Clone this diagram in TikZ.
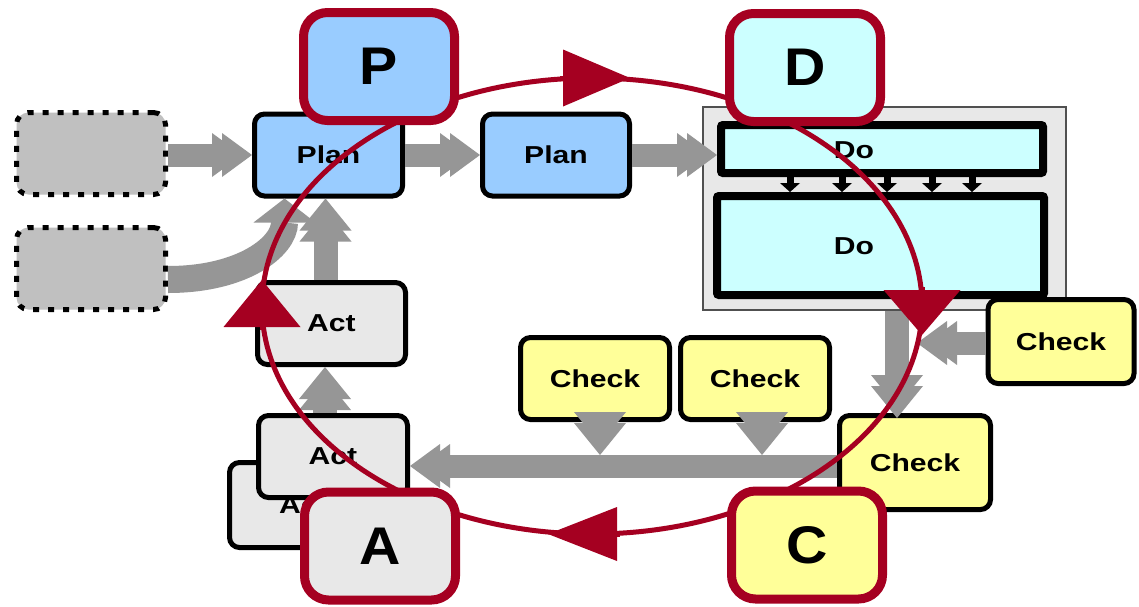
\documentclass[tikz,border=0pt]{standalone}
\usepackage{fontspec}
\newfontfamily\labelfamily{Liberation Sans}[FakeStretch=1.23]
\newfontfamily\phasefamily{Liberation Sans}[FakeStretch=1.08]
\usetikzlibrary{arrows.meta}

\definecolor{pdcared}{RGB}{165,0,33}
\definecolor{planblue}{RGB}{153,204,255}
\definecolor{docyan}{RGB}{204,255,255}
\definecolor{checkyellow}{RGB}{255,255,153}
\definecolor{actgray}{RGB}{232,232,232}
\definecolor{inputgray}{RGB}{192,192,192}
\definecolor{flowgray}{RGB}{150,150,150}
\definecolor{framegray}{RGB}{80,80,80}

\begin{document}
\begin{tikzpicture}[x=1pt,y=-1pt,
  lbl/.style={inner sep=0pt, font=\labelfamily\bfseries\fontsize{24.5pt}{28pt}\selectfont},
  stepbox/.style={draw=black, line width=5pt, rounded corners=10pt, inner sep=0pt,
    minimum width=148pt, minimum height=82pt,
    font=\labelfamily\bfseries\fontsize{24.5pt}{28pt}\selectfont},
  inbox/.style={draw=black, line width=5pt, dash pattern=on 6pt off 9pt,
    rounded corners=12pt, fill=inputgray, minimum width=149pt, minimum height=82pt},
  doframe/.style={draw=framegray, line width=1.5pt, fill=actgray,
    minimum width=363pt, minimum height=203pt, inner sep=0pt},
  dobox/.style={draw=black, line width=8pt, fill=docyan, rounded corners=2pt, inner sep=0pt},
  phase/.style={draw=pdcared, line width=9pt, rounded corners=24pt, inner sep=0pt,
    minimum width=151pt, minimum height=108pt,
    font=\phasefamily\bfseries\fontsize{53pt}{60pt}\selectfont},
  flowh/.style={draw=flowgray, line width=23pt,
    -{Triangle[length=30pt,width=44pt,line width=0pt,sep=-20pt]Triangle[length=30pt,width=44pt,line width=0pt]}},
  flowv/.style={draw=flowgray, line width=24pt,
    -{Triangle[length=32pt,width=52pt,line width=0pt,sep=-21pt]Triangle[length=32pt,width=52pt,line width=0pt]}},
  flowcurve/.style={draw=flowgray, line width=27pt,
    -{Triangle[length=24pt,width=62pt,line width=0pt]}},
  handoff/.style={draw=black, line width=7pt,
    -{Triangle[length=9pt,width=20pt,line width=0pt]}},
  cyclepath/.style={draw=pdcared, line width=5pt},
]
\fill[white] (0,0) rectangle (1139,606);
\useasboundingbox (0,0) rectangle (1139,606);

% ---- Do stage: a frame holding two Do steps with hand-offs between them
\node[doframe] (doframe) at (884.5,208.5) {};
\node[dobox, minimum width=322pt, minimum height=48pt] (do1) at (882,149) {};
\node[dobox, minimum width=327pt, minimum height=99pt] (do2) at (880.5,245.5) {};
\node[lbl] (do1text) at (854,150) {Do};
\node[lbl] (do2text) at (854,246) {Do};
\foreach \x in {790,842,887,932,972}
  \draw[handoff] (do1.south -| \x,0) -- (do2.north -| \x,0);

% ---- inputs, plan, act and check steps
\node[inbox] (in1) at (91,153.5) {};
\node[inbox] (in2) at (91,268.5) {};
\node[stepbox, fill=planblue] (plan1) at (328.5,155) {Plan};
\node[stepbox, fill=planblue, minimum width=147pt] (plan2) at (556,155) {Plan};
\node[stepbox, fill=actgray, minimum height=85pt] (act3) at (303.5,505) {Act};
\node[stepbox, fill=actgray, minimum width=149pt] (act2) at (333,456.5) {Act};
\node[stepbox, fill=actgray] (act1) at (331.5,323.5) {Act};
\node[stepbox, fill=checkyellow, minimum width=149pt] (check1) at (595,378.5) {Check};
\node[stepbox, fill=checkyellow, minimum width=149pt] (check2) at (755,378.5) {Check};
\node[stepbox, fill=checkyellow, minimum width=146pt, minimum height=84pt] (check3) at (1061,341.5) {Check};
\node[stepbox, fill=checkyellow, minimum width=151pt, minimum height=94pt] (check4) at (915,462.5) {Check};

% ---- grey flow arrows
\coordinate (bus) at (0,466);
\draw[flowh] (in1.east |- plan1.west) -- (plan1.west);
\draw[flowcurve] ([yshift=-11pt]in2.east) .. controls +(75,0) and +(0,48) .. ([xshift=-44pt]plan1.south);
\draw[flowh] (plan1.east) -- (plan2.west);
\draw[flowh] (plan2.east) -- (plan2.east -| do1.west);
\draw[flowv] ([xshift=-6pt]act1.north) -- ([xshift=-6pt]act1.north |- plan1.south);
\draw[flowv] ([xshift=-8pt]act2.north) -- ([xshift=-8pt]act2.north |- act1.south);
\draw[flowh] (check4.west |- bus) -- (act2.east |- bus);
\coordinate (bus1) at (600,455);
\coordinate (bus2) at (762,455);
\draw[flowv] (check1.south -| bus1) -- (bus1);
\draw[flowv] (check2.south -| bus2) -- (bus2);
\coordinate (checkin) at (897,418);
\draw[flowv] (doframe.south -| checkin) -- (checkin);
\coordinate (sidein) at (917,343);
\draw[flowh] (check3.west |- sidein) -- (sidein);

% ---- the PDCA cycle: ellipse with one arrow head at each extreme
\coordinate (cc) at (592,306);
\draw[cyclepath] (cc) ellipse [x radius=330, y radius=228];
\coordinate (tipT) at (630,78);
\coordinate (tipR) at (922,335);
\coordinate (tipB) at (548,534);
\coordinate (tipL) at (262,280);
\draw[cyclepath, -{Triangle[length=67pt,width=57pt,line width=0pt]}]
  ([xshift=-70pt]tipT) -- (tipT);
\draw[cyclepath, -{Triangle[length=45pt,width=77pt,line width=0pt]}]
  ([yshift=48pt]tipR) -- (tipR);
\draw[cyclepath, -{Triangle[length=69pt,width=54pt,line width=0pt]}]
  ([xshift=72pt]tipB) -- (tipB);
\draw[cyclepath, -{Triangle[length=47pt,width=77pt,line width=0pt]}]
  ([yshift=-50pt]tipL) -- (tipL);

\node[phase, fill=planblue] (P) at (379,66.5) {P};
\node[phase, fill=docyan] (D) at (805,67.5) {D};
\node[phase, fill=actgray] (A) at (380,546) {A};
\node[phase, fill=checkyellow] (C) at (807,545) {C};
\end{tikzpicture}
\end{document}
